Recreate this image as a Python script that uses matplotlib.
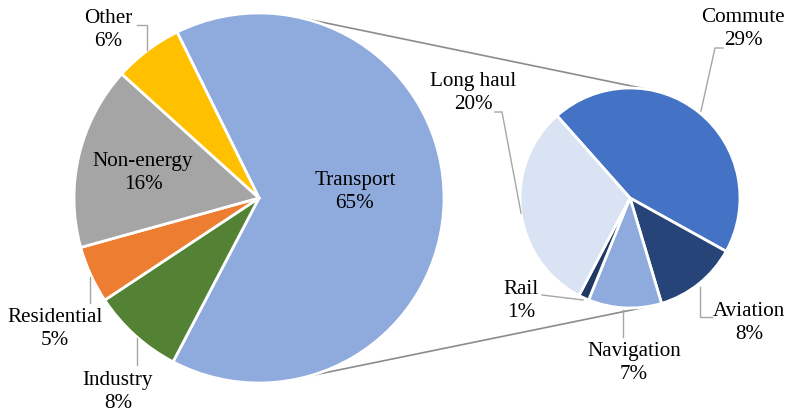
import numpy as np
import matplotlib
matplotlib.use("Agg")
import matplotlib.pyplot as plt

# Main breakdown
main_labels = ["Transport", "Industry", "Residential", "Non-energy", "Other"]
main_values = [65, 8, 5, 16, 6]
main_colors = ["#8FAADC", "#548235", "#ED7D31", "#A5A5A5", "#FFC000"]

# Transport split
sub_labels = ["Commute", "Aviation", "Navigation", "Rail", "Long haul"]
sub_values = [29, 8, 7, 1, 20]
sub_colors = ["#4472C4", "#264478", "#8FAADC", "#203864", "#DAE3F3"]

W, H = 789, 413
fig = plt.figure(figsize=(W / 100, H / 100), dpi=100)
ax = fig.add_axes([0, 0, 1, 1])

FONT = "Liberation Serif"
FS = 15.2
LEAD = "#A6A6A6"


def Y(y):
    return H - y


c1, r1 = (259, Y(198)), 185
c2, r2 = (630, Y(198)), 110

ax.pie(main_values, colors=main_colors, startangle=116.3, counterclock=False,
       center=c1, radius=r1, frame=True,
       wedgeprops=dict(edgecolor="white", linewidth=2))
ax.pie(sub_values, colors=sub_colors, startangle=131.6, counterclock=False,
       center=c2, radius=r2, frame=True,
       wedgeprops=dict(edgecolor="white", linewidth=2))
ax.set_xlim(0, W)
ax.set_ylim(0, H)
ax.set_aspect("equal")
ax.axis("off")

# connector lines between the two pies
for a1, a2 in [(77, 79.8), (-74, -78.6)]:
    p1 = (c1[0] + r1 * np.cos(np.radians(a1)), c1[1] + r1 * np.sin(np.radians(a1)))
    p2 = (c2[0] + r2 * np.cos(np.radians(a2)), c2[1] + r2 * np.sin(np.radians(a2)))
    ax.plot([p1[0], p2[0]], [p1[1], p2[1]], color="#8C8C8C", lw=1.2, zorder=0)

labels_main = dict(zip(main_labels, main_values))
labels_sub = dict(zip(sub_labels, sub_values))

text_pos = {
    "Transport": (355, 192),
    "Non-energy": (143, 173),
    "Other": (108, 30),
    "Residential": (55, 329),
    "Industry": (118, 392),
    "Commute": (743, 29),
    "Long haul": (473, 93),
    "Rail": (521, 301),
    "Navigation": (634, 363),
    "Aviation": (749, 323),
}

for name, (x, y) in text_pos.items():
    v = labels_main.get(name, labels_sub.get(name))
    ax.text(x, Y(y), f"{name}\n{v}%", ha="center", va="center",
            fontsize=FS, family=FONT, color="black", linespacing=1.25)

# leader lines
leaders = [
    [(137, 25), (147, 25), (147, 50)],
    [(90, 303), (90, 277)],
    [(137, 365), (137, 338)],
    [(723, 48), (715, 48), (701, 111)],
    [(495, 112), (502, 112), (521, 213)],
    [(542, 295), (583, 300)],
    [(623, 337), (623, 310)],
    [(712, 317), (700, 317), (700, 287)],
]
for pts in leaders:
    xs = [p[0] for p in pts]
    ys = [Y(p[1]) for p in pts]
    ax.plot(xs, ys, color=LEAD, lw=1.0)

fig.savefig("out.png", dpi=100)
